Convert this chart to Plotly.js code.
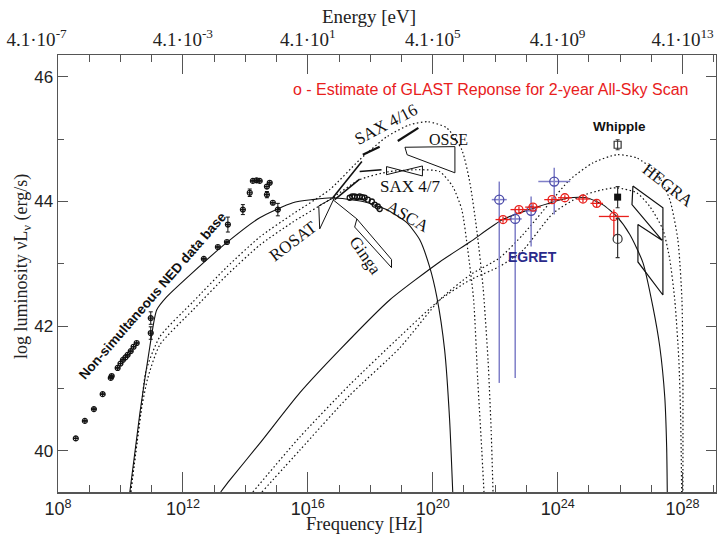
<!DOCTYPE html>
<html><head><meta charset="utf-8">
<script src="https://cdn.plot.ly/plotly-3.0.1.min.js"></script>
<style>html,body{margin:0;padding:0;background:#fff}#c{width:717px;height:534px}</style>
</head><body><div id="c"></div>
<script>
// ---------- data (x = log10 frequency [Hz], y = log luminosity) ----------
const decadeTicks = [8, 12, 16, 20, 24, 28];
const freqTickText = ["10<sup>8</sup>","10<sup>12</sup>","10<sup>16</sup>","10<sup>20</sup>","10<sup>24</sup>","10<sup>28</sup>"];
const energyTickText = ["4.1·10<sup>-7</sup>&nbsp;&nbsp;&nbsp;&nbsp;&nbsp;&nbsp;&nbsp;&nbsp;&nbsp;","4.1·10<sup>-3</sup>","4.1·10<sup>1</sup>","4.1·10<sup>5</sup>","4.1·10<sup>9</sup>","4.1·10<sup>13</sup>"];
const lumTicks = [40, 42, 44, 46];

// NED archival points
const nedX = [8.57, 8.86, 9.15, 9.43, 9.69, 9.72, 9.91, 10.0, 10.08, 10.16, 10.23, 10.33, 10.42, 10.52, 10.97, 10.97, 12.67, 13.12, 13.41, 13.44, 13.92, 14.14, 14.24, 14.36, 14.46, 14.69, 14.78, 14.69, 14.88, 15.04];
const nedY = [40.20, 40.48, 40.67, 40.91, 41.17, 41.20, 41.33, 41.40, 41.46, 41.50, 41.54, 41.60, 41.67, 41.73, 41.89, 42.13, 43.08, 43.27, 43.35, 43.63, 43.87, 44.14, 44.33, 44.34, 44.33, 44.24, 44.30, 44.11, 43.98, 43.87];
const nedErr = [0,0,0,0,0,0,0,0,0,0,0,0,0,0,0.1,0.1,0,0,0,0.12,0.08,0.06,0,0,0,0,0,0.05,0,0.1];

// ASCA points
const ascaX = [17.34, 17.42, 17.50, 17.58, 17.66, 17.74, 17.82, 17.92, 18.05, 18.14, 18.24, 18.30];
const ascaY = [44.06, 44.08, 44.08, 44.07, 44.08, 44.07, 44.06, 44.03, 44.00, 43.95, 43.92, 43.88];

// synchrotron model (solid)
const syncX = [10.30, 10.62, 10.94, 11.16, 11.48, 12.31, 13.40, 14.46, 15.52, 16.15, 16.79, 17.76, 18.52, 19.17, 19.58, 19.90, 20.13, 20.38, 20.54, 20.64];
const syncY = [39.34, 40.60, 41.67, 42.26, 42.47, 42.86, 43.34, 43.74, 43.98, 44.03, 44.06, 44.00, 43.87, 43.66, 43.39, 42.95, 42.47, 41.62, 40.50, 39.34];
// synchrotron models (dotted)
const syncAX = [10.33, 10.65, 10.81, 11.26, 12.32, 13.41, 14.46, 15.52, 16.70, 17.66, 18.53, 19.26, 19.84, 20.45, 20.93, 21.19, 21.42, 21.61, 21.77, 21.87, 21.93];
const syncAY = [39.34, 40.60, 41.27, 41.83, 42.39, 42.95, 43.43, 43.80, 44.19, 44.67, 45.04, 45.23, 45.28, 45.18, 44.83, 44.30, 43.50, 42.63, 41.46, 40.33, 39.34];
const syncBX = [10.33, 10.65, 10.87, 11.26, 12.32, 13.41, 14.46, 15.52, 16.70, 17.66, 18.62, 19.58, 20.22, 20.64, 20.93, 21.12, 21.31, 21.44, 21.57, 21.64];
const syncBY = [39.34, 40.60, 41.16, 41.70, 42.26, 42.82, 43.30, 43.67, 44.03, 44.35, 44.48, 44.51, 44.48, 44.24, 43.87, 43.23, 42.42, 41.14, 40.01, 39.34];

// inverse Compton model (solid)
const icX = [13.21, 13.50, 14.46, 15.74, 17.02, 18.62, 20.22, 21.19, 22.24, 23.33, 24.39, 24.93, 25.44, 25.89, 26.31, 26.73, 27.05, 27.27, 27.43, 27.49, 27.51];
const icY = [39.34, 39.53, 40.12, 40.93, 41.62, 42.42, 43.03, 43.35, 43.71, 43.91, 44.06, 44.06, 43.95, 43.76, 43.47, 43.02, 42.31, 41.67, 40.86, 40.06, 39.34];
// inverse Compton models (dotted)
const icAX = [14.53, 15.74, 17.34, 18.94, 20.22, 21.19, 22.15, 22.89, 23.75, 24.39, 25.13, 25.89, 26.53, 27.17, 27.59, 27.85, 27.98, 28.01, 28.01];
const icAY = [39.34, 40.01, 40.89, 41.65, 42.42, 42.82, 43.10, 43.47, 43.98, 44.35, 44.62, 44.75, 44.70, 44.46, 44.03, 43.38, 42.42, 41.14, 39.34];
const icBX = [14.24, 15.74, 17.34, 18.94, 20.22, 21.19, 22.15, 22.89, 23.85, 24.71, 25.45, 25.89, 26.53, 26.95, 27.37, 27.59, 27.75, 27.88, 27.94, 27.97];
const icBY = [39.34, 40.22, 41.06, 41.83, 42.42, 42.74, 42.96, 43.22, 43.81, 44.08, 44.19, 44.22, 44.14, 43.92, 43.55, 43.07, 42.42, 41.46, 40.50, 39.34];

// EGRET
const egretX = [22.13, 22.64, 23.15, 23.89];
const egretY = [44.03, 43.72, 43.85, 44.32];
const egretXErr = [0.24, 0.21, 0.19, 0.51];
const egretYPlus = [0.29, 0.15, 0.23, 0.22];
const egretYMinus = [2.94, 2.55, 0.57, 0.53];

// GLAST estimate
const glastX = [22.25, 22.76, 23.21, 23.82, 24.23, 24.81, 25.25, 25.80];
const glastY = [43.71, 43.87, 43.91, 44.03, 44.06, 44.04, 43.97, 43.76];
const glastXErr = [0.24, 0.27, 0.25, 0.25, 0.22, 0.22, 0.20, 0.48];
const glastYPlus = [0.05, 0.05, 0.05, 0.04, 0.04, 0.05, 0.06, 0.11];
const glastYMinus = [0.05, 0.05, 0.05, 0.04, 0.04, 0.05, 0.06, 0.32];

// Whipple
const whipOpenX = [25.92], whipOpenY = [44.91], whipOpenErr = [0.08];
const whipFillX = [25.92], whipFillY = [44.07], whipFillErr = [0.17];
const whipCircX = [25.92], whipCircY = [43.40], whipCircPlus = [0.33], whipCircMinus = [0.30];

// X-ray / gamma butterflies
const rosatX = [16.35, 16.86, 16.38, 16.35];
const rosatY = [43.93, 44.07, 43.56, 43.93];
const rosatLinesX = [16.80, 17.73, null, 16.86, 17.66, null, 17.66, 18.36];
const rosatLinesY = [44.06, 44.64, null, 44.03, 44.36, null, 44.48, 44.51];
const gingaX = [16.80, 17.57, 18.68, 18.68, 17.50, 17.57];
const gingaY = [44.03, 43.72, 43.07, 42.94, 43.59, 43.72];
const sax416X = [17.76, 18.30, null, 18.88, 19.54];
const sax416Y = [44.75, 44.88, null, 44.97, 45.18];
const sax47X = [18.52, 19.67, 19.67, 18.52, 18.52];
const sax47Y = [44.56, 44.41, 44.57, 44.43, 44.56];
const osseX = [19.11, 20.71, 20.71, 19.18, 19.11];
const osseY = [44.87, 44.88, 44.46, 44.75, 44.87];
const hegraX = [26.41, 27.37, 27.37, 26.57, 26.57, 27.34, 26.38, 26.41];
const hegraY = [44.25, 43.90, 42.50, 43.03, 43.63, 43.38, 43.95, 44.25];

// ---------- traces ----------
const blk = '#111';
const dotted = '1.5px,2.5px';
const line = (x, y, dash, w) => ({x, y, mode:'lines', type:'scatter', line:{color:blk, width:w||1.1, dash:dash||'solid', shape: 'spline', smoothing:0.6}, hoverinfo:'skip'});
const poly = (x, y, w) => ({x, y, mode:'lines', type:'scatter', line:{color:blk, width:w||1}, hoverinfo:'skip'});

const traces = [
  line(syncX, syncY),
  line(syncAX, syncAY, dotted, 1.2),
  line(syncBX, syncBY, dotted, 1.2),
  line(icX, icY),
  line(icAX, icAY, dotted, 1.2),
  line(icBX, icBY, dotted, 1.2),
  poly(rosatX, rosatY), poly(rosatLinesX, rosatLinesY, 1.6),
  poly(gingaX, gingaY), poly(sax416X, sax416Y, 2.2), poly(sax47X, sax47Y), poly(osseX, osseY),
  poly(hegraX, hegraY, 1.2),
  {x:nedX, y:nedY, mode:'markers', type:'scatter', marker:{symbol:'circle-cross-open', size:5, color:blk, line:{width:1.2}},
   error_y:{type:'data', array:nedErr, color:blk, thickness:1, width:2}, hoverinfo:'skip'},
  {x:ascaX, y:ascaY, mode:'markers', type:'scatter', marker:{symbol:'circle-open', size:5, color:blk, line:{width:1.3}}, hoverinfo:'skip'},
  {x:egretX, y:egretY, mode:'markers', type:'scatter', marker:{symbol:'circle-open', size:9, color:'#4a4aa8', line:{width:1.3}},
   error_x:{type:'data', array:egretXErr, color:'#7f7fc8', thickness:1.5, width:0},
   error_y:{type:'data', symmetric:false, array:egretYPlus, arrayminus:egretYMinus, color:'#7f7fc8', thickness:1.5, width:0}, hoverinfo:'skip'},
  {x:glastX, y:glastY, mode:'markers', type:'scatter', marker:{symbol:'circle-open', size:8, color:'#e8201c', line:{width:1.3}},
   error_x:{type:'data', array:glastXErr, color:'#e8201c', thickness:1.3, width:0},
   error_y:{type:'data', symmetric:false, array:glastYPlus, arrayminus:glastYMinus, color:'#e8201c', thickness:1.3, width:0}, hoverinfo:'skip'},
  {x:whipOpenX, y:whipOpenY, mode:'markers', type:'scatter', marker:{symbol:'square-open', size:7, color:'#333', line:{width:1.2}},
   error_y:{type:'data', array:whipOpenErr, color:'#333', thickness:1, width:2}, hoverinfo:'skip'},
  {x:whipFillX, y:whipFillY, mode:'markers', type:'scatter', marker:{symbol:'square', size:7, color:blk},
   error_y:{type:'data', array:whipFillErr, color:'#333', thickness:1.2, width:2}, hoverinfo:'skip'},
  {x:whipCircX, y:whipCircY, mode:'markers', type:'scatter', marker:{symbol:'circle-open', size:9, color:'#333', line:{width:1.2}},
   error_y:{type:'data', symmetric:false, array:whipCircPlus, arrayminus:whipCircMinus, color:'#333', thickness:1.2, width:2}, hoverinfo:'skip'},
  {x:[decadeTicks[0]], y:[lumTicks[0]], xaxis:'x2', mode:'markers', marker:{opacity:0}, hoverinfo:'skip'}
];

const serif = 'Liberation Serif, Times New Roman, serif';
const sans = 'Liberation Sans, Arial, Helvetica, sans-serif';
const axCol = '#555';
const xRange = [8, 29.07];

const ann = (text, x, y, size, angle, opts) => Object.assign({text, x, y, xref:'x', yref:'y', xanchor:'center', yanchor:'middle', showarrow:false, textangle:angle||0,
  font:{family:serif, size:size, color:blk}}, opts||{});
const pann = (text, x, y, font, angle) => ({text, x, y, xref:'paper', yref:'paper', xanchor:'center', yanchor:'middle', showarrow:false, textangle:angle||0, font});

const layout = {
  width:717, height:534, showlegend:false,
  margin:{l:58, r:1, t:55, b:42},
  paper_bgcolor:'#fff', plot_bgcolor:'#fff',
  xaxis:{range:xRange, tickvals:decadeTicks, ticktext:freqTickText, ticks:'inside', ticklen:20, tickwidth:1, tickcolor:axCol,
    minor:{dtick:1, ticklen:7, tickcolor:axCol, ticks:'inside'},
    showline:true, linecolor:axCol, linewidth:1.5, showgrid:false, zeroline:false,
    tickfont:{family:sans, size:18, color:'#222'}},
  xaxis2:{range:xRange, overlaying:'x', side:'top', tickvals:decadeTicks, ticktext:energyTickText, ticks:'inside', ticklen:19, tickwidth:1, tickcolor:axCol,
    minor:{dtick:1, ticklen:7, tickcolor:axCol, ticks:'inside'},
    showline:true, linecolor:axCol, linewidth:1.5, showgrid:false, zeroline:false,
    tickfont:{family:serif, size:19, color:'#222'}},
  yaxis:{range:[39.34, 46.35], tickvals:lumTicks, ticks:'inside', ticklen:10, tickwidth:1, tickcolor:axCol,
    minor:{dtick:1, ticklen:6, tickcolor:axCol, ticks:'inside'},
    showline:true, mirror:'ticks', linecolor:axCol, linewidth:1.5, showgrid:false, zeroline:false,
    tickfont:{family:sans, size:17, color:'#222'}},
  annotations:[
    pann('Energy [eV]', 0.472, 1.087, {family:serif, size:19, color:'#222'}),
    pann('Frequency [Hz]', 0.466, -0.073, {family:serif, size:18.5, color:'#222'}),
    pann('log luminosity νL<sub>ν</sub> (erg/s)', -0.055, 0.517, {family:serif, size:18, color:'#222'}, -90),
    pann('o - Estimate of GLAST Reponse for 2-year All-Sky Scan', 0.657, 0.922, {family:sans, size:16, color:'#e8201c'}),
    ann('<b>Non-simultaneous NED data base</b>', 11.03, 42.50, 13.5, -49, {font:{family:sans, size:13.5, color:blk}}),
    ann('ROSAT', 15.52, 43.36, 17, -37),
    ann('Ginga', 17.83, 43.13, 17, 55),
    ann('SAX 4/16', 18.50, 45.23, 17, -28),
    ann('OSSE', 20.49, 44.99, 16, 0),
    ann('SAX 4/7', 19.27, 44.24, 17, 0),
    ann('ASCA', 19.20, 43.76, 17, 30),
    ann('HEGRA', 27.53, 44.25, 17, 38),
    ann('<b>Whipple</b>', 25.98, 45.20, 13.5, 0, {font:{family:sans, size:13.5, color:blk}}),
    ann('<b>EGRET</b>', 23.20, 43.11, 14, 0, {font:{family:sans, size:14, color:'#2a2a8a'}})
  ]
};

Plotly.newPlot('c', traces, layout, {staticPlot:true, displayModeBar:false});
</script></body></html>
